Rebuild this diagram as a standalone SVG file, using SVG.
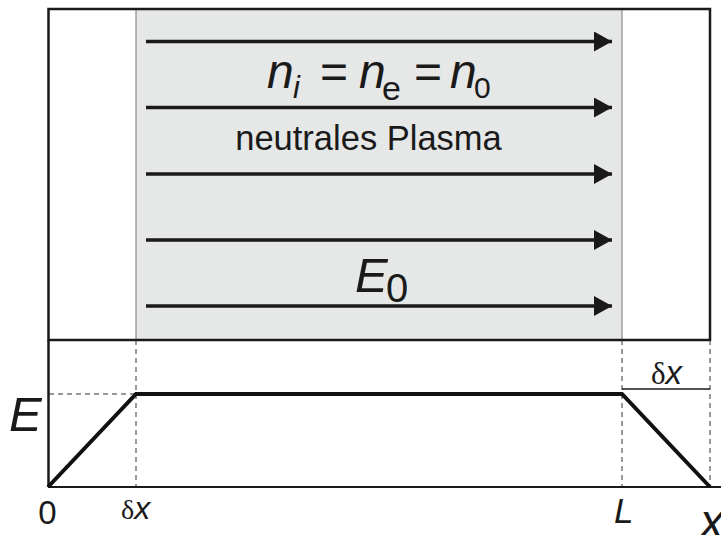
<svg xmlns="http://www.w3.org/2000/svg" width="721" height="535" viewBox="0 0 721 535">
  <defs>
    <marker id="ah" viewBox="0 0 18 20" refX="18" refY="10" markerWidth="18" markerHeight="20" markerUnits="userSpaceOnUse" orient="auto">
      <path d="M0,0 L18,10 L0,20 Z" fill="#1a1a1a"/>
    </marker>
  </defs>
  <style>
    .m { font-family: "Liberation Sans", Arial, sans-serif; font-style: italic; fill: #1a1a1a; }
    .t { font-family: "Liberation Sans", Arial, sans-serif; fill: #1a1a1a; }
    .s { font-family: "Liberation Serif", "Times New Roman", serif; fill: #1a1a1a; }
    .arrow { stroke: #1a1a1a; stroke-width: 3.5; fill: none; marker-end: url(#ah); }
    .dash { stroke: #333; stroke-width: 1; stroke-dasharray: 5 4; fill: none; }
    .curve { stroke: #111; stroke-width: 4; fill: none; stroke-linejoin: miter; }
  </style>
  <rect width="721" height="535" fill="#ffffff"/>

  <g id="plasma-box">
    <rect x="136" y="9" width="486" height="331" fill="#e6e7e7" stroke="#777" stroke-width="1"/>
    <rect x="48.5" y="9" width="661.5" height="331" fill="none" stroke="#1a1a1a" stroke-width="2.5"/>
  </g>

  <g id="connectors">
    <line class="arrow" x1="146" y1="41.5" x2="612" y2="41.5"/>
    <line class="arrow" x1="146" y1="107.5" x2="612" y2="107.5"/>
    <line class="arrow" x1="146" y1="174" x2="612" y2="174"/>
    <line class="arrow" x1="146" y1="240" x2="612" y2="240"/>
    <line class="arrow" x1="146" y1="306" x2="612" y2="306"/>
  </g>

  <g id="labels-top">
    <text class="m" font-size="48"><tspan x="267" y="88">n</tspan><tspan x="293" y="98" font-size="31">i</tspan></text>
    <text class="t" font-size="48" x="320" y="88">=</text>
    <text class="m" font-size="48"><tspan x="359" y="88">n</tspan><tspan x="382" y="100" font-size="34" font-style="normal">e</tspan></text>
    <text class="t" font-size="48" x="414" y="88">=</text>
    <text class="m" font-size="48"><tspan x="450" y="88">n</tspan><tspan x="474" y="98" font-size="30" font-style="normal">0</tspan></text>
    <text class="t" font-size="34.5" x="368.5" y="150" text-anchor="middle">neutrales Plasma</text>
    <text class="m" font-size="49"><tspan x="355" y="292">E</tspan><tspan x="386" y="302" font-size="40" font-style="normal">0</tspan></text>
  </g>

  <g id="graph">
    <line class="dash" x1="136" y1="340" x2="136" y2="487"/>
    <line class="dash" x1="622" y1="340" x2="622" y2="487"/>
    <line class="dash" x1="710" y1="340" x2="710" y2="487"/>
    <line class="dash" x1="49" y1="394" x2="136" y2="394"/>
    <line x1="48.5" y1="340" x2="48.5" y2="487" stroke="#1a1a1a" stroke-width="2.5"/>
    <line x1="48" y1="487" x2="721" y2="487" stroke="#1a1a1a" stroke-width="2"/>
    <line x1="622" y1="389" x2="710" y2="389" stroke="#1a1a1a" stroke-width="1.5"/>
    <polyline class="curve" points="48,487 136,394 622,394 710,487"/>
  </g>

  <g id="labels-axis">
    <text class="m" font-size="49" x="9" y="431">E</text>
    <text class="t" font-size="33" x="47.5" y="523.5" text-anchor="middle">0</text>
    <text x="121" y="519"><tspan class="s" font-size="28">δ</tspan><tspan class="m" font-size="32">x</tspan></text>
    <text x="651" y="384"><tspan class="s" font-size="31">δ</tspan><tspan class="m" font-size="33">x</tspan></text>
    <text class="m" font-size="35" x="614" y="523">L</text>
    <text class="m" font-size="48" x="700" y="538">x</text>
  </g>
</svg>
